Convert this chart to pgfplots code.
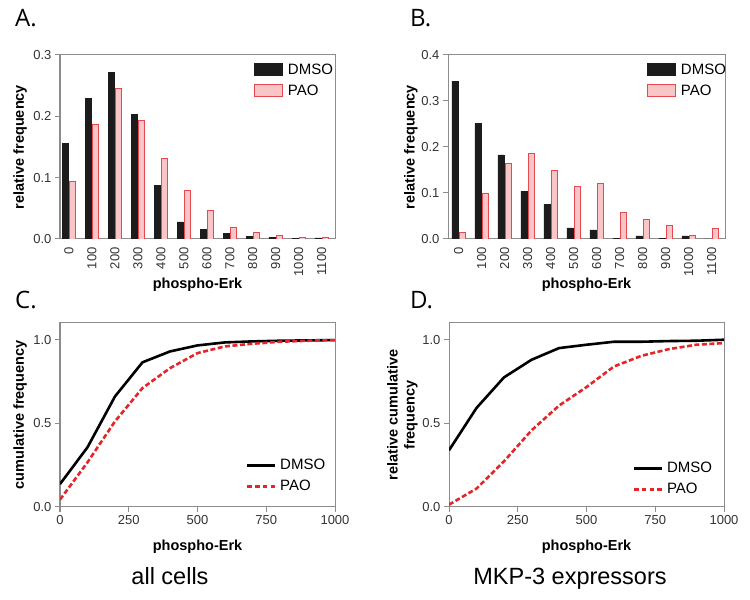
\documentclass[border=0pt]{standalone}
\usepackage{pgfplots}
\pgfplotsset{compat=1.18}
\usepackage{fontspec}
\setmainfont{Liberation Sans}
\newfontfamily\letterfont{Open Sans}
\definecolor{axgray}{HTML}{8C8C8C}
\definecolor{ticktext}{HTML}{333333}
\definecolor{barblack}{HTML}{1C1C1C}
\definecolor{pinkfill}{HTML}{F8C6C6}
\definecolor{pinkedge}{HTML}{E8474F}
\definecolor{pao}{HTML}{E4262A}
\pgfplotsset{
  base/.style={
    scale only axis, width=275pt, height=184pt,
    axis line style={axgray, line width=1pt},
    every tick/.style={axgray, line width=1pt},
    tick align=outside, major tick length=5pt, tick pos=left,
    tick label style={font=\fontsize{13}{13}\selectfont, text=ticktext},
    /pgf/number format/assume math mode=true,
    /pgf/number format/1000 sep={},
    label style={font=\bfseries\fontsize{14.5}{17}\selectfont},
    legend style={draw=none, fill=none, font=\fontsize{15}{15}\selectfont,
      inner sep=0pt, row sep=5pt, cells={anchor=west},
      /tikz/every odd column/.append style={column sep=3pt}},
    yticklabel style={/pgf/number format/.cd, fixed, fixed zerofill, precision=1},
  },
  barchart/.style={base, ybar=1.5pt, bar width=6pt, ymin=0,
    xtick={0,...,11}, xticklabels={0,100,200,300,400,500,600,700,800,900,1000,1100},
    x tick label style={rotate=90, anchor=east},
    major x tick style={draw=none},
    xlabel style={at={(axis description cs:0.5,-0.25)}, anchor=center},
  },
  linechart/.style={base, xmin=0, xmax=1000, ymin=0, ymax=1.1,
    xtick={0,250,500,750,1000}, ytick={0,0.5,1},
    xticklabel style={/pgf/number format/.cd, fixed, precision=0, 1000 sep={}},
    xlabel style={at={(axis description cs:0.5,-0.215)}, anchor=center},
  },
  barleg/.style={legend image code/.code={\draw[##1] (0pt,-6pt) rectangle (28pt,6pt);}},
  solidleg/.style={legend image code/.code={\fill[##1, draw=none] (0pt,-1.3pt) rectangle (28pt,1.3pt);}},
  dashleg/.style={legend image code/.code={
    \fill[##1, draw=none] (0pt,-1.3pt) rectangle (4.5pt,1.3pt);
    \fill[##1, draw=none] (7.8pt,-1.3pt) rectangle (12.3pt,1.3pt);
    \fill[##1, draw=none] (15.6pt,-1.3pt) rectangle (20.1pt,1.3pt);
    \fill[##1, draw=none] (23.4pt,-1.3pt) rectangle (27.9pt,1.3pt);}},
}
\begin{document}
\begin{tikzpicture}
\path[use as bounding box] (0pt,0pt) rectangle (750pt,600pt);
\node[anchor=base west, inner sep=0pt, font=\letterfont\fontsize{24}{24}\selectfont] at (15pt,573pt) {A.};
\node[anchor=base west, inner sep=0pt, font=\letterfont\fontsize{24}{24}\selectfont] at (410pt,573pt) {B.};
\node[anchor=base west, inner sep=0pt, font=\letterfont\fontsize{24}{24}\selectfont] at (15pt,291pt) {C.};
\node[anchor=base west, inner sep=0pt, font=\letterfont\fontsize{24}{24}\selectfont] at (410pt,291pt) {D.};
\node[anchor=base, inner sep=0pt, font=\fontsize{23.5}{24}\selectfont] at (170pt,15pt) {all cells};
\node[anchor=base, inner sep=0pt, font=\fontsize{23.5}{24}\selectfont] at (570pt,15pt) {MKP-3 expressors};

% Panel A
\begin{axis}[barchart, at={(60pt,361pt)}, anchor=south west,
  ymax=0.3, ytick={0,0.1,0.2,0.3}, xmin=-0.39, xmax=11.58,
  ylabel={relative frequency}, xlabel={phospho-Erk},
  ylabel style={at={(axis description cs:-0.145,0.5)}, anchor=center},
  legend style={at={(axis description cs:0.705,0.965)}, anchor=north west}]
\addplot[fill=barblack, draw=barblack, barleg] coordinates {
 (0,0.156) (1,0.229) (2,0.272) (3,0.203) (4,0.088) (5,0.028)
 (6,0.016) (7,0.009) (8,0.004) (9,0.003) (10,0.0015) (11,0.002)};
\addplot[fill=pinkfill, draw=pinkedge, line width=0.9pt, barleg] coordinates {
 (0,0.0935) (1,0.186) (2,0.246) (3,0.193) (4,0.131) (5,0.079)
 (6,0.046) (7,0.019) (8,0.011) (9,0.005) (10,0.003) (11,0.003)};
\legend{DMSO, PAO}
\end{axis}

% Panel B
\begin{axis}[barchart, at={(448pt,361pt)}, anchor=south west, width=277pt,
  ymax=0.4, ytick={0,0.1,0.2,0.3,0.4}, xmin=-0.46, xmax=11.58,
  ylabel={relative frequency}, xlabel={phospho-Erk},
  ylabel style={at={(axis description cs:-0.134,0.5)}, anchor=center},
  legend style={at={(axis description cs:0.718,0.965)}, anchor=north west}]
\addplot[fill=barblack, draw=barblack, barleg] coordinates {
 (0,0.343) (1,0.251) (2,0.183) (3,0.104) (4,0.075) (5,0.024)
 (6,0.0196) (7,0.0015) (8,0.007) (9,0.0015) (10,0.007) (11,0)};
\addplot[fill=pinkfill, draw=pinkedge, line width=0.9pt, barleg] coordinates {
 (0,0.0145) (1,0.100) (2,0.164) (3,0.185) (4,0.149) (5,0.114)
 (6,0.121) (7,0.057) (8,0.043) (9,0.029) (10,0.007) (11,0.022)};
\legend{DMSO, PAO}
\end{axis}

% Panel C
\begin{axis}[linechart, at={(60pt,93pt)}, anchor=south west,
  ylabel={cumulative frequency}, xlabel={phospho-Erk},
  ylabel style={at={(axis description cs:-0.145,0.5)}, anchor=center},
  legend style={at={(axis description cs:0.68,0.27)}, anchor=north west}]
\addplot[black, line width=2.6pt, line join=round, solidleg] coordinates {
 (0,0.137) (100,0.357) (200,0.661) (300,0.865) (400,0.93) (500,0.966)
 (600,0.984) (700,0.99) (800,0.994) (900,0.996) (1000,0.998)};
\addplot[pao, line width=2.6pt, line join=round, dash pattern=on 5pt off 2.5pt, dashleg] coordinates {
 (0,0.044) (100,0.267) (200,0.512) (300,0.711) (400,0.83) (500,0.92)
 (600,0.96) (700,0.976) (800,0.988) (900,0.994) (1000,0.998)};
\legend{DMSO, PAO}
\end{axis}

% Panel D
\begin{axis}[linechart, at={(449pt,93pt)}, anchor=south west,
  ylabel={relative cumulative\\frequency}, xlabel={phospho-Erk},
  ylabel style={at={(axis description cs:-0.17,0.5)}, anchor=center, align=center},
  legend style={at={(axis description cs:0.672,0.255)}, anchor=north west}]
\addplot[black, line width=2.6pt, line join=round, solidleg] coordinates {
 (0,0.339) (100,0.592) (200,0.775) (300,0.88) (400,0.95) (500,0.97)
 (600,0.988) (700,0.988) (800,0.992) (900,0.994) (1000,1.0)};
\addplot[pao, line width=2.6pt, line join=round, dash pattern=on 5pt off 2.5pt, dashleg] coordinates {
 (0,0.014) (100,0.11) (200,0.273) (300,0.458) (400,0.606) (500,0.717)
 (600,0.84) (700,0.904) (800,0.944) (900,0.97) (1000,0.98)};
\legend{DMSO, PAO}
\end{axis}
\end{tikzpicture}
\end{document}
